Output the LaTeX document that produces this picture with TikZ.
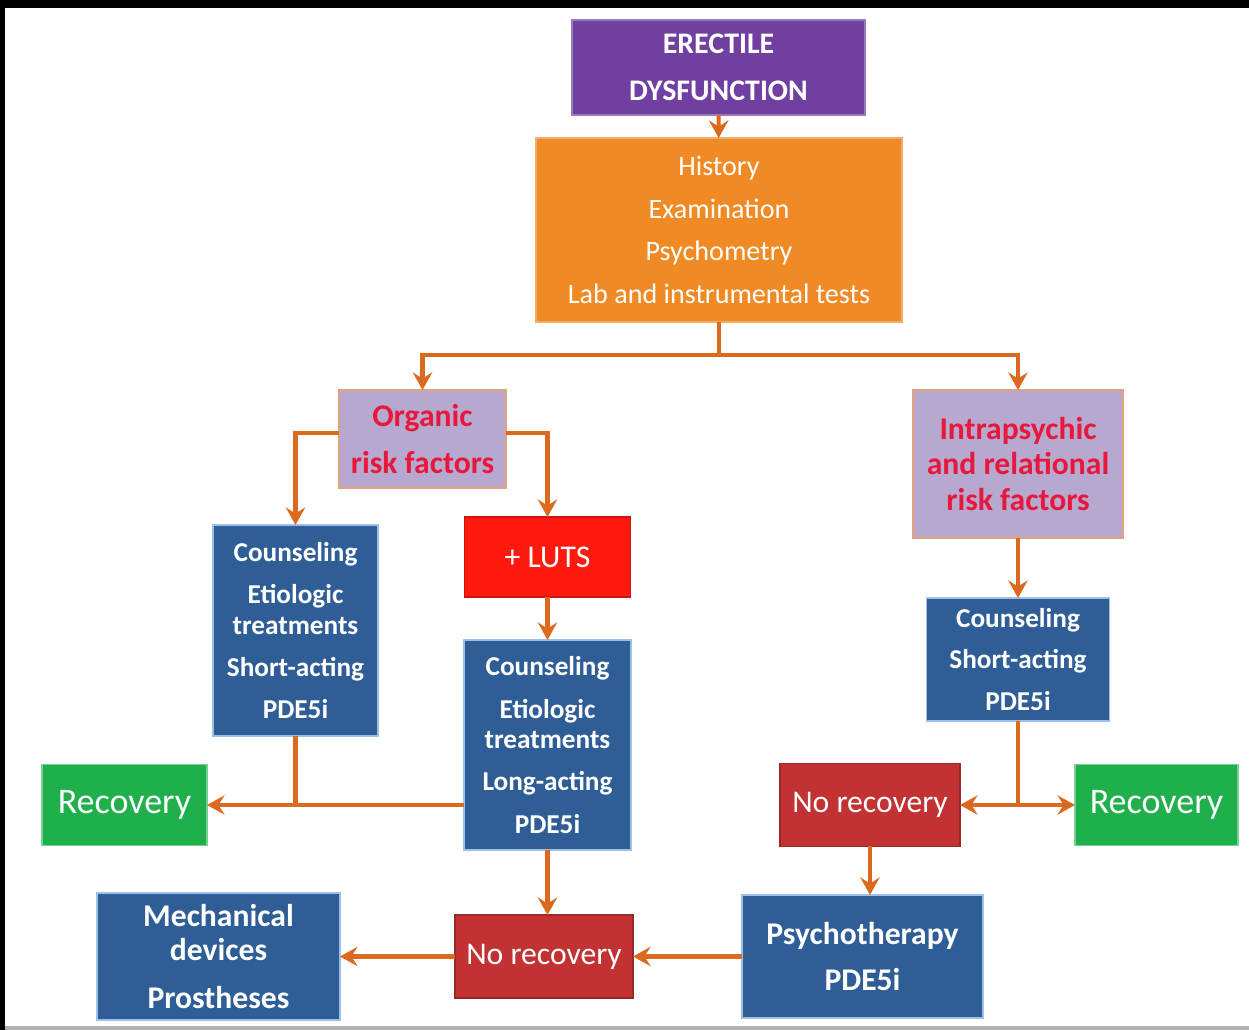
\documentclass[tikz,border=0pt]{standalone}
\usepackage{fontspec}
\setmainfont{Carlito}
\usetikzlibrary{arrows.meta}
\definecolor{edpurple}{HTML}{7040A0}
\definecolor{edorange}{HTML}{F08A24}
\definecolor{edlav}{HTML}{B7A8D0}
\definecolor{edlavline}{HTML}{E3A27C}
\definecolor{edredtext}{HTML}{E8173C}
\definecolor{edblue}{HTML}{2F5E97}
\definecolor{edblueline}{HTML}{9DC0E8}
\definecolor{edluts}{HTML}{FF1A0F}
\definecolor{ednorec}{HTML}{C23232}
\definecolor{edgreen}{HTML}{1FB04C}
\definecolor{edarrow}{HTML}{DC6A1E}
\begin{document}
\begin{tikzpicture}[x=0.02cm,y=-0.02cm,
  box/.style={inner sep=0pt,outer sep=0pt,align=center,text=white},
  bluebox/.style={box,fill=edblue,draw=edblueline,line width=1pt,font=\bfseries\fontsize{15.5}{17.5}\selectfont},
  riskbox/.style={box,fill=edlav,draw=edlavline,line width=1pt,text=edredtext},
  recbox/.style={box,fill=edgreen,draw=edgreen!60!white,line width=1pt,font=\fontsize{20.5}{24}\selectfont},
  norecbox/.style={box,fill=ednorec,draw=ednorec!80!black,line width=0.6pt,font=\fontsize{18}{22}\selectfont},
  link/.style={draw=edarrow,line width=2.3pt},
  arr/.style={link,-{Stealth[length=10pt,width=11pt,inset=3.5pt]}}]
% frame
\fill[black] (0,0) rectangle (1249,1030);
\fill[white] (5,8) rectangle (1249,1026);
\fill[gray!60] (5,1026) rectangle (1249,1030);
% top
\node[box,fill=edpurple,draw=edpurple!70!white,line width=1pt,minimum width=5.86cm,minimum height=1.90cm,
  font=\bfseries\fontsize{17}{27}\selectfont] (ed) at (718.5,67.5) {ERECTILE\\DYSFUNCTION};
\node[box,fill=edorange,draw=edorange!70!white,line width=1pt,minimum width=7.32cm,minimum height=3.68cm,
  font=\fontsize{16}{24.4}\selectfont] (exam) at (719,230) {History\\Examination\\Psychometry\\Lab and instrumental tests};
\draw[arr] (ed) -- (exam);
% risk factors
\node[riskbox,minimum width=3.34cm,minimum height=1.96cm,font=\bfseries\fontsize{18}{27}\selectfont] (organic) at (422.5,439) {Organic\\risk factors};
\node[riskbox,minimum width=4.20cm,minimum height=2.96cm,font=\bfseries\fontsize{18}{20}\selectfont] (intra) at (1018,464) {Intrapsychic\\and relational\\risk factors};
\coordinate (split) at (719,355);
\draw[link] (exam) -- (split);
\draw[arr] (split) -| (organic);
\draw[arr] (split) -| (intra);
% organic branch
\node[bluebox,minimum width=3.30cm,minimum height=4.22cm] (cons1) at (295.5,630.5) {Counseling\\[6.5pt]Etiologic\\treatments\\[6.5pt]Short-acting\\[6.5pt]PDE5i};
\node[box,fill=edluts,draw=edluts!80!black,line width=0.6pt,minimum width=3.32cm,minimum height=1.60cm,
  font=\fontsize{18}{22}\selectfont] (luts) at (547.5,557) {+ LUTS};
\node[bluebox,minimum width=3.34cm,minimum height=4.20cm] (cons2) at (547.5,745) {Counseling\\[6.5pt]Etiologic\\treatments\\[6.5pt]Long-acting\\[6.5pt]PDE5i};
\node[recbox,minimum width=3.30cm,minimum height=1.62cm] (rec1) at (124.5,805) {Recovery};
\draw[arr] ([yshift=3.4pt]organic.west) -| (cons1);
\draw[arr] ([yshift=3.4pt]organic.east) -| (luts);
\draw[arr] (luts) -- (cons2);
\draw[link] (cons1.south) -- (cons1.south |- rec1.east);
\draw[arr] (cons2.west |- rec1.east) -- (rec1.east);
% psychic branch
\node[bluebox,minimum width=3.66cm,minimum height=2.46cm,font=\bfseries\fontsize{15.5}{23.8}\selectfont] (cons3) at (1018,659.5) {Counseling\\Short-acting\\PDE5i};
\node[norecbox,minimum width=3.60cm,minimum height=1.66cm] (norec1) at (870,805) {No recovery};
\node[recbox,minimum width=3.26cm,minimum height=1.62cm] (rec2) at (1156.5,805) {Recovery};
\coordinate (fork) at (cons3.south |- norec1.east);
\draw[arr] (intra) -- (cons3);
\draw[link] (cons3.south) -- (fork);
\draw[arr] (fork) -- (norec1.east);
\draw[arr] (fork) -- (rec2.west);
% bottom row
\node[bluebox,minimum width=4.82cm,minimum height=2.46cm,font=\bfseries\fontsize{18}{26.6}\selectfont] (psy) at (862.5,956.5) {Psychotherapy\\PDE5i};
\node[norecbox,minimum width=3.56cm,minimum height=1.66cm] (norec2) at (544,956.5) {No recovery};
\node[bluebox,minimum width=4.86cm,minimum height=2.54cm,font=\bfseries\fontsize{18}{19.5}\selectfont] (mech) at (218.5,956.5) {Mechanical\\devices\\[8pt]Prostheses};
\draw[arr] (norec1.south) -- (norec1.south |- psy.north);
\draw[arr] (cons2.south) -- (cons2.south |- norec2.north);
\draw[arr] (psy) -- (norec2);
\draw[arr] (norec2) -- (mech);
\end{tikzpicture}
\end{document}
